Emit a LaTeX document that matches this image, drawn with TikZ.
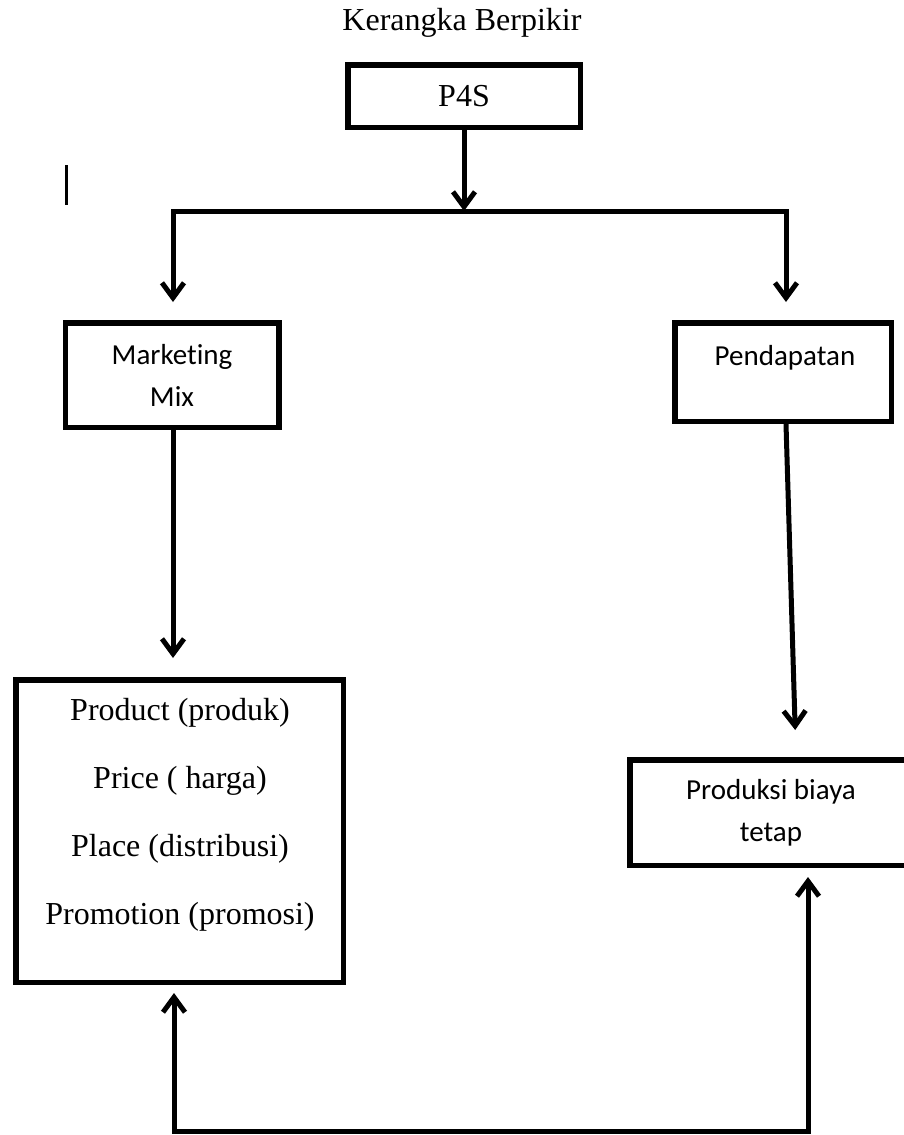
\documentclass[tikz,border=0pt]{standalone}
\usepackage{fontspec}
\setmainfont{Liberation Serif}
\newfontfamily\calibrifont[Ligatures=NoCommon]{Carlito}
\usetikzlibrary{arrows.meta,calc}
\tikzset{
  box/.style={draw=black, line width=5.5pt, rectangle, inner sep=0pt, align=center},
  serif/.style={font=\fontsize{32}{68}\selectfont},
  sans/.style={font=\calibrifont\fontsize{29}{42}\selectfont},
  conn/.style={draw=black, line width=5pt, line join=miter},
  arr/.style={conn, -{Straight Barb[length=15pt,width=22pt]}},
  arrboth/.style={conn, {Straight Barb[length=15pt,width=22pt]}-{Straight Barb[length=15pt,width=22pt]}}
}
\begin{document}
\begin{tikzpicture}[x=1pt,y=-1pt]
\useasboundingbox (0,0) rectangle (904,1135);
\node[serif, anchor=center] (title) at (462,23) {Kerangka Berpikir};
\node[box, serif, minimum width=232.5pt, minimum height=62.5pt] (p4s) at (464,96) {P4S};
\node[box, sans, minimum width=213.5pt, minimum height=104.5pt] (mm) at (172,375) {Marketing\\Mix};
\node[box, minimum width=216.5pt, minimum height=98.5pt] (pend) at (783,372) {};
\node[sans] (pendtxt) at (785,358) {Pendapatan};
\node[box, minimum width=327.5pt, minimum height=302.5pt] (big) at (179.5,831) {};
\node[serif, align=center] (bigtxt) at (180,815) {Product (produk)\\Price ( harga)\\Place (distribusi)\\Promotion (promosi)};
\node[box, sans, minimum width=282.5pt, minimum height=105.5pt] (prod) at (771,812.5) {Produksi biaya\\tetap};
% stray cursor mark
\coordinate (cur1) at (66,165);
\coordinate (cur2) at (66,205);
\draw[line width=3pt] (cur1) -- (cur2);
% junction
\coordinate (junc) at (464,211);
\coordinate (jl) at (173,211);
\coordinate (jr) at (786,211);
\draw[arr] (p4s.south) -- (junc);
\draw[arrboth, shorten <=18pt, shorten >=18pt] (mm.north -| jl) -- (jl) -- (jr) -- (pend.north -| jr);
\draw[arr, shorten >=19pt] (mm.south -| jl) -- (big.north -| jl);
\coordinate (pe) at (796,757);
\draw[arr, shorten >=27pt] ([xshift=3pt]pend.south) -- (pe |- prod.north);
\coordinate (bl) at (174,1131);
\coordinate (br) at (808,1131);
\draw[arrboth, shorten <=8pt, shorten >=9pt] (big.south -| bl) -- (bl) -- (br) -- (prod.south -| br);
\end{tikzpicture}
\end{document}
